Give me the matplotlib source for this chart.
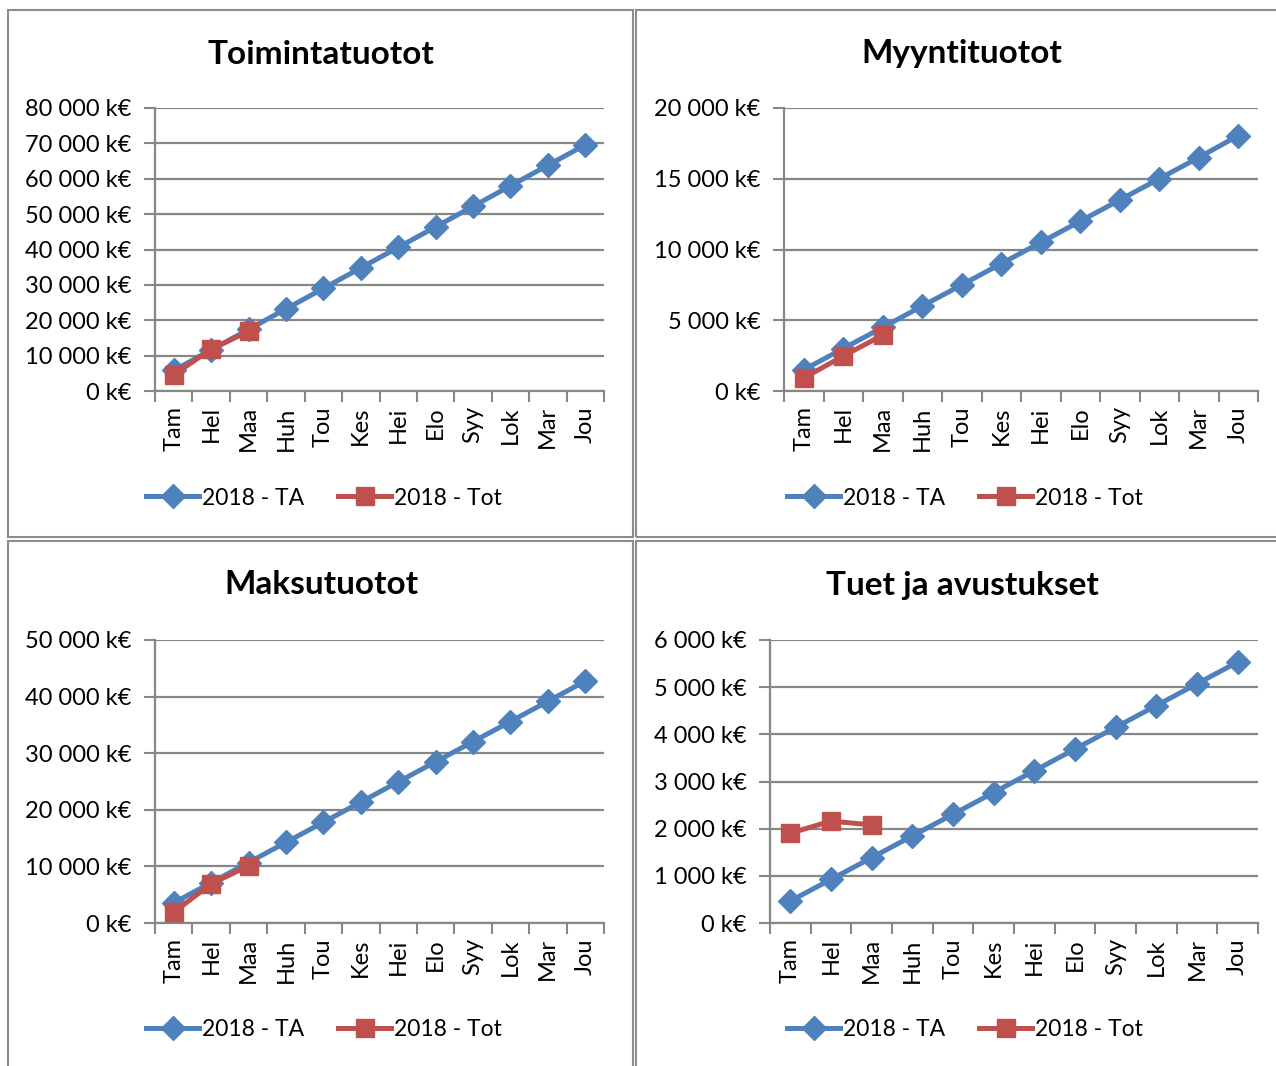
import matplotlib
matplotlib.use("Agg")
import matplotlib.pyplot as plt
from matplotlib.ticker import FuncFormatter, FixedLocator
from matplotlib.patches import Rectangle

plt.rcParams['font.family'] = ['Lato', 'DejaVu Sans']

months = ['Tam', 'Hel', 'Maa', 'Huh', 'Tou', 'Kes', 'Hei', 'Elo', 'Syy', 'Lok', 'Mar', 'Jou']

# values, k€
toiminta_ta = [5800, 11600, 17400, 23200, 29000, 34800, 40600, 46400, 52200, 58000, 63800, 69600]
toiminta_tot = [4600, 11800, 16900]
myynti_ta = [1500, 3000, 4500, 6000, 7500, 9000, 10500, 12000, 13500, 15000, 16500, 18050]
myynti_tot = [920, 2470, 3950]
maksu_ta = [3560, 7120, 10680, 14250, 17800, 21370, 24930, 28480, 32040, 35600, 39160, 42750]
maksu_tot = [1900, 6900, 10100]
tuet_ta = [466, 925, 1385, 1846, 2305, 2766, 3227, 3688, 4149, 4610, 5071, 5534]
tuet_tot = [1905, 2160, 2080]

titles = ['Toimintatuotot', 'Myyntituotot', 'Maksutuotot', 'Tuet ja avustukset']
ymaxes = [80000, 20000, 50000, 6000]
ysteps = [10000, 5000, 10000, 1000]

BLUE = '#4F81BD'
RED = '#C0504D'
GRID = '#878787'

W, H = 1276, 1066
fig = plt.figure(figsize=(W / 100, H / 100), dpi=100)

def fx(px):
    return px / W

def fy(py):
    return 1 - py / H

# panel frames (pixels): x0, y0, x1, y1
frames = [(8, 10, 633, 537), (636, 10, 1282, 537), (8, 541, 633, 1072), (636, 541, 1282, 1072)]
for x0, y0, x1, y1 in frames:
    fig.patches.append(Rectangle((fx(x0), fy(y1)), fx(x1 - x0), fy(y0) - fy(y1),
                                 transform=fig.transFigure, fill=False,
                                 edgecolor='#8c8c8c', linewidth=1.5))

# axes boxes (pixels): left, right, top, bottom
boxes = [(155, 604, 108, 391), (784, 1258, 108, 391), (155, 604, 640, 923), (770, 1258, 640, 923)]
title_pos = [(321, 54), (962, 54), (321, 585), (962, 585)]
legend_y = [498, 498, 1030, 1030]
legend_x = [324, 965, 324, 965]

data = [(toiminta_ta, toiminta_tot), (myynti_ta, myynti_tot),
        (maksu_ta, maksu_tot), (tuet_ta, tuet_tot)]

def kfmt(v, pos):
    s = f'{int(round(v)):,}'.replace(',', ' ')
    return s + ' k€'

for i in range(4):
    l, r, t, b = boxes[i]
    ax = fig.add_axes([fx(l), fy(b), fx(r - l), fy(t) - fy(b)])
    ta, tot = data[i]
    x_ta = list(range(len(ta)))
    x_tot = list(range(len(tot)))
    h1, = ax.plot(x_ta, ta, color=BLUE, linewidth=3.6, marker='D', markersize=12,
                  markerfacecolor=BLUE, markeredgecolor=BLUE, label='2018 - TA', zorder=3)
    h2, = ax.plot(x_tot, tot, color=RED, linewidth=3.6, marker='s', markersize=13.5,
                  markerfacecolor=RED, markeredgecolor=RED, label='2018 - Tot', zorder=4)

    ax.set_xlim(-0.5, 11.5)
    ax.set_ylim(0, ymaxes[i])
    yt = list(range(0, ymaxes[i] + 1, ysteps[i]))
    ax.set_yticks(yt)
    ax.yaxis.set_major_formatter(FuncFormatter(kfmt))
    ax.grid(axis='y', color=GRID, linewidth=1.6, zorder=0)
    ax.set_axisbelow(True)

    ax.set_xticks(range(12))
    ax.set_xticklabels(months, rotation=90, fontsize=17)
    ax.xaxis.set_minor_locator(FixedLocator([k - 0.5 for k in range(13)]))
    ax.tick_params(axis='x', which='major', length=0, pad=11)
    ax.tick_params(axis='x', which='minor', length=8, width=1.5, color=GRID)
    ax.tick_params(axis='y', length=8, width=1.5, color=GRID, labelsize=17, pad=9)

    for s in ['top', 'right']:
        ax.spines[s].set_visible(False)
    for s in ['left', 'bottom']:
        ax.spines[s].set_color(GRID)
        ax.spines[s].set_linewidth(1.6)

    tx, ty = title_pos[i]
    fig.text(fx(tx), fy(ty), titles[i], ha='center', va='center',
             fontsize=24, fontweight='bold')

    fig.legend(handles=[h1, h2], loc='center', ncol=2,
               bbox_to_anchor=(fx(legend_x[i]), fy(legend_y[i])),
               frameon=False, fontsize=16.5, handlelength=2.3, columnspacing=1.5,
               handletextpad=0.12, borderaxespad=0)

fig.savefig('out.png', dpi=100, facecolor='w')
